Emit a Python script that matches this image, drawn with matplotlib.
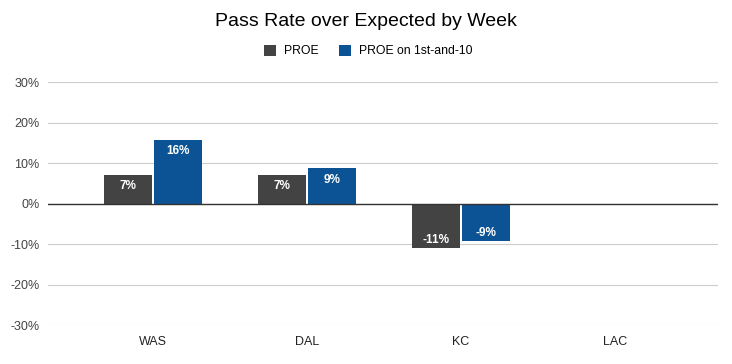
import numpy as np
import matplotlib.pyplot as plt

plt.rcParams['font.family'] = ['Liberation Sans', 'DejaVu Sans']

teams = ['WAS', 'DAL', 'KC', 'LAC']
proe = [7.0, 7.0, -11.0, np.nan]
proe_1st10 = [15.7, 8.7, -9.3, np.nan]
proe_labels = ['7%', '7%', '-11%', '']
proe_1st10_labels = ['16%', '9%', '-9%', '']

fig = plt.figure(figsize=(7.32, 3.64), dpi=100)
ax = fig.add_axes([48 / 732, 1 - 325 / 364, 670 / 732, 243 / 364])

x = np.arange(len(teams))
w = 0.312
c1 = '#434343'
c2 = '#0b5394'
b1 = ax.bar(x - 0.162, proe, w, color=c1, label='PROE', zorder=3)
b2 = ax.bar(x + 0.162, proe_1st10, w, color=c2, label='PROE on 1st-and-10', zorder=3)

# value labels inside the bar ends
for bars, labels in [(b1, proe_labels), (b2, proe_1st10_labels)]:
    for bar, lab in zip(bars, labels):
        h = bar.get_height()
        if not lab or np.isnan(h):
            continue
        cx = bar.get_x() + bar.get_width() / 2
        if h >= 0:
            ax.text(cx, h - 1.3, lab, ha='center', va='top', color='white',
                    fontsize=8.5, fontweight='bold', zorder=4)
        else:
            ax.text(cx, h + 0.6, lab, ha='center', va='bottom', color='white',
                    fontsize=8.5, fontweight='bold', zorder=4)

ax.set_ylim(-30, 30)
ax.set_xlim(-0.682, 3.669)
ax.set_yticks(np.arange(-30, 31, 10))
ax.set_yticklabels([f'{v}%' for v in range(-30, 31, 10)])
ax.set_xticks(x)
ax.set_xticklabels(teams)
ax.grid(axis='y', color='#cccccc', linewidth=0.8, zorder=0)
ax.axhline(0, color='#333333', linewidth=1, zorder=3.5)
for s in ax.spines.values():
    s.set_visible(False)
ax.tick_params(length=0, labelsize=9, colors='#444444')
ax.tick_params(axis='y', pad=6)
ax.tick_params(axis='x', pad=8)
for t in ax.get_xticklabels():
    t.set_color('#222222')

fig.text(0.5, 1 - 22 / 364, 'Pass Rate over Expected by Week', ha='center', va='center',
         fontsize=14, color='#000000')
fig.legend(handles=[b1, b2], loc='center', bbox_to_anchor=(0.503, 1 - 51 / 364), ncol=2,
           frameon=False, fontsize=8.8, handlelength=1.0, handleheight=1.0,
           columnspacing=1.7, handletextpad=0.6)

fig.savefig('out.png', dpi=100)
